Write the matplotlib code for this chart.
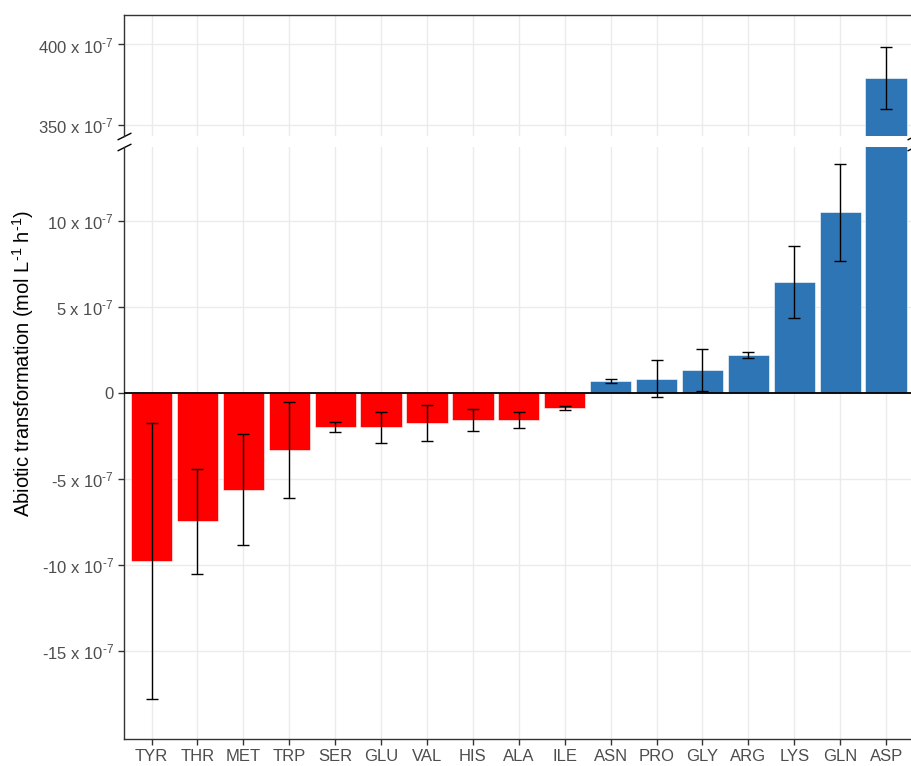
import matplotlib
matplotlib.use("Agg")
import matplotlib.pyplot as plt
import numpy as np

plt.rcParams['font.family'] = ['Liberation Sans', 'DejaVu Sans']
plt.rcParams['mathtext.fontset'] = 'custom'
plt.rcParams['mathtext.rm'] = 'Liberation Sans'
plt.rcParams['mathtext.it'] = 'Liberation Sans:italic'
plt.rcParams['mathtext.bf'] = 'Liberation Sans:bold'

# values in units of 10^-7 mol L-1 h-1
amino = ['TYR', 'THR', 'MET', 'TRP', 'SER', 'GLU', 'VAL', 'HIS', 'ALA', 'ILE',
         'ASN', 'PRO', 'GLY', 'ARG', 'LYS', 'GLN', 'ASP']
means = [-9.75, -7.45, -5.6, -3.3, -1.98, -1.98, -1.72, -1.58, -1.58, -0.86,
         0.7, 0.85, 1.35, 2.2, 6.45, 10.5, 379.0]
errs = [8.0, 3.05, 3.2, 2.77, 0.3, 0.9, 1.06, 0.63, 0.46, 0.12,
        0.1, 1.05, 1.22, 0.17, 2.08, 2.8, 19.5]

red = '#FF0000'
blue = '#2E75B6'
colors = [red if m < 0 else blue for m in means]
x = np.arange(len(amino))

fig = plt.figure(figsize=(9.11, 7.66), dpi=100)
ax_top = fig.add_axes([0.1361, 0.8225, 0.8668, 0.158])
ax_bot = fig.add_axes([0.1361, 0.0352, 0.8668, 0.7728])

grid_c = '#EBEBEB'
spine_c = '#333333'
tick_c = '#4D4D4D'

def fmt(v):
    if v == 0:
        return '0'
    return r'%d x 10$^{\text{-}7}$' % v

for ax in (ax_top, ax_bot):
    ax.bar(x, means, width=0.9, color=colors, edgecolor='white', linewidth=0.4, zorder=2)
    ax.errorbar(x, means, yerr=errs, fmt='none', ecolor='black', elinewidth=1.0,
                capsize=4, capthick=1.0, zorder=3)
    ax.set_xlim(-0.6, 16.6)
    ax.set_xticks(x)
    ax.grid(True, color=grid_c, linewidth=1.0, zorder=0)
    ax.set_axisbelow(True)
    ax.tick_params(axis='both', colors=spine_c, labelcolor=tick_c, labelsize=12,
                   length=4, width=1.0, direction='out')
    for s in ax.spines.values():
        s.set_color(spine_c)
        s.set_linewidth(1.0)

ax_top.set_ylim(343, 418.4)
top_ticks = [350, 400]
ax_top.set_yticks(top_ticks)
ax_top.set_yticklabels([fmt(t) for t in top_ticks])
ax_top.spines['bottom'].set_visible(False)
ax_top.tick_params(axis='x', bottom=False, labelbottom=False)

ax_bot.set_ylim(-20.1, 14.3)
bot_ticks = [-15, -10, -5, 0, 5, 10]
ax_bot.set_yticks(bot_ticks)
ax_bot.set_yticklabels([fmt(t) for t in bot_ticks])
ax_bot.spines['top'].set_visible(False)
ax_bot.set_xticklabels(amino)
ax_bot.axhline(0, color='black', linewidth=1.3, zorder=4)

# break marks
d = 0.5
kw = dict(marker=[(-1, -d), (1, d)], markersize=10, linestyle='none',
          color='black', mec='black', mew=1, clip_on=False)
ax_top.plot([0, 1], [0, 0], transform=ax_top.transAxes, **kw)
ax_bot.plot([0, 1], [1, 1], transform=ax_bot.transAxes, **kw)

fig.text(0.025, 0.525, r'Abiotic transformation (mol L$^{\text{-}1}$ h$^{\text{-}1}$)',
         rotation=90, va='center', ha='center', fontsize=14.5, color='black')

fig.savefig('out.png', dpi=100)
